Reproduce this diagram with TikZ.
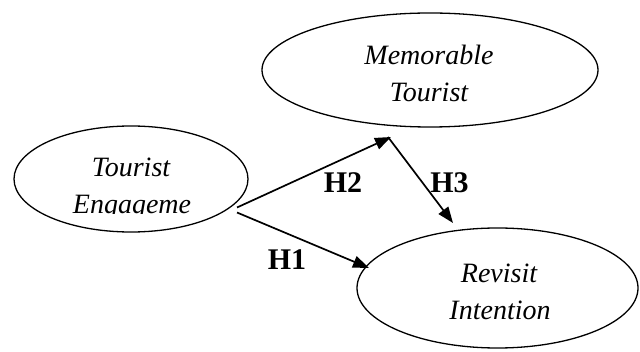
\documentclass[tikz,border=0pt]{standalone}
\usepackage{fontspec}
\setmainfont{Liberation Serif}
\usetikzlibrary{shapes.geometric,arrows.meta}
\tikzset{
  oval/.style={draw, ellipse, inner sep=0pt, line width=1.3pt},
  ovaltext/.style={anchor=base, inner sep=0pt, font=\fontsize{28}{32}\selectfont\itshape},
  hlabel/.style={anchor=base, inner sep=0pt, font=\fontsize{30}{32}\selectfont\bfseries},
  link/.style={line width=1.7pt, -{Triangle[length=16pt,width=12pt]}}
}
\begin{document}
\begin{tikzpicture}[x=1pt,y=-1pt]
\useasboundingbox (0,0) rectangle (640,352);
% ellipses
\node[oval, minimum width=234pt, minimum height=106pt] (te) at (131,179) {};
\node[oval, minimum width=336pt, minimum height=114pt] (mt) at (430,70) {};
\node[oval, minimum width=281pt, minimum height=120pt] (ri) at (497.5,288) {};
% texts
\node[ovaltext] (t1) at (131,177) {Tourist};
\begin{scope}
\clip (0,0) rectangle (640,213.5);
\node[ovaltext] (t2) at (132,214) {Engageme};
\end{scope}
\node[ovaltext] (m1) at (429,65) {Memorable};
\node[ovaltext] (m2) at (429,102) {Tourist};
\node[ovaltext] (r1) at (499,283) {Revisit};
\node[ovaltext] (r2) at (500,320) {Intention};
% connector ends
\coordinate (s2) at (237,207.5);
\coordinate (e2) at (391,137);
\coordinate (s3) at (388,137);
\coordinate (e3) at (453,223);
\coordinate (s1) at (237,212.5);
\coordinate (e1) at (369,268);
\draw[link] (s2) -- (e2);
\draw[link] (s3) -- (e3);
\draw[link] (s1) -- (e1);
% labels
\node[hlabel] (h2) at (343,193) {H2};
\node[hlabel] (h3) at (449.5,193) {H3};
\node[hlabel] (h1) at (287,270) {H1};
\end{tikzpicture}
\end{document}
